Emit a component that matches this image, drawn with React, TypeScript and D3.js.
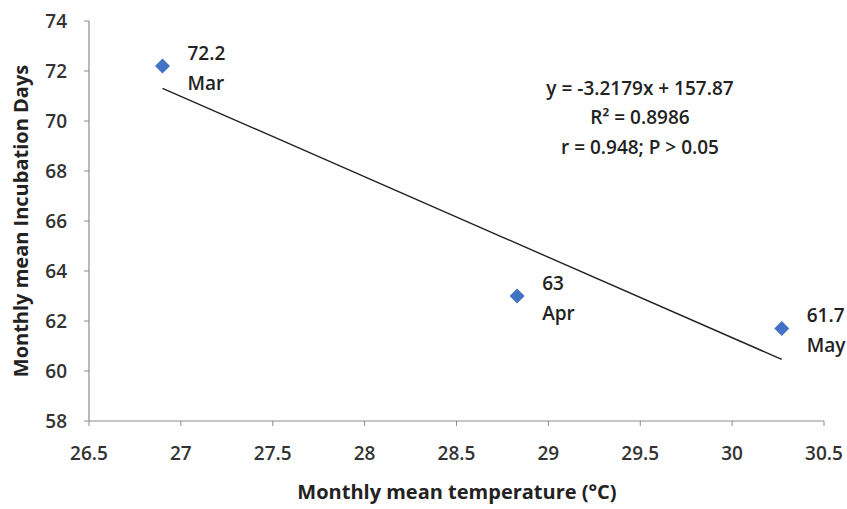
import React from "react";
import * as d3 from "d3";

const temps = [26.9, 28.83, 30.27];
const days = [72.2, 63, 61.7];
const months = ["Mar", "Apr", "May"];
const valueLabels = ["72.2", "63", "61.7"];
const xTicks = [26.5, 27, 27.5, 28, 28.5, 29, 29.5, 30, 30.5];
const yTicks = [58, 60, 62, 64, 66, 68, 70, 72, 74];
const slope = -3.2179;
const intercept = 157.87;
const eqLines = ["y = -3.2179x + 157.87", "R² = 0.8986", "r = 0.948; P > 0.05"];

export default function App() {
  const W = 847, H = 509;
  const x = d3.scaleLinear().domain([26.5, 30.5]).range([89, 824]);
  const y = d3.scaleLinear().domain([58, 74]).range([421, 21]);
  const font = "'Open Sans', 'DejaVu Sans', sans-serif";
  const axisColor = "#8c8c8c";
  const x0 = d3.min(temps)!, x1 = d3.max(temps)!;
  const line = d3.line<number>().x(d => x(d)).y(d => y(slope * d + intercept));
  const r = 7.5;
  const diamond = `M0,${-r}L${r},0L0,${r}L${-r},0Z`;
  return (
    <div style={{ position: "absolute", left: 0, top: 0 }}>
      <svg width={W} height={H} style={{ display: "block", background: "#fff" }} fontFamily={font}>
        {/* axes */}
        <line x1={x(26.5)} x2={x(26.5)} y1={y(74)} y2={y(58)} stroke={axisColor} strokeWidth={1.2} />
        <line x1={x(26.5)} x2={x(30.5)} y1={y(58)} y2={y(58)} stroke={axisColor} strokeWidth={1.2} />
        {yTicks.map(t => (
          <g key={"y" + t}>
            <line x1={x(26.5) - 5} x2={x(26.5)} y1={y(t)} y2={y(t)} stroke={axisColor} strokeWidth={1} />
            <text x={x(26.5) - 22} y={y(t)} dy="0.35em" textAnchor="end" fontSize={19} fontWeight={600} fill="#333">{t}</text>
          </g>
        ))}
        {xTicks.map(t => (
          <g key={"x" + t}>
            <line x1={x(t)} x2={x(t)} y1={y(58)} y2={y(58) + 5} stroke={axisColor} strokeWidth={1} />
            <text x={x(t)} y={453} dy="0.35em" textAnchor="middle" fontSize={19} fontWeight={600} fill="#333">{t}</text>
          </g>
        ))}
        {/* trend line */}
        <path d={line([x0, x1])!} stroke="#222" strokeWidth={1.4} fill="none" />
        {/* points */}
        {temps.map((t, i) => (
          <path key={"p" + i} d={diamond} transform={`translate(${x(t)},${y(days[i])})`} fill="#4472C4" />
        ))}
        {temps.map((t, i) => (
          <g key={"l" + i} fontSize={19} fontWeight={600} fill="#222">
            <text x={x(t) + 25} y={y(days[i]) - 13} dy="0.35em">{valueLabels[i]}</text>
            <text x={x(t) + 25} y={y(days[i]) + 17} dy="0.35em">{months[i]}</text>
          </g>
        ))}
        {/* equation */}
        {eqLines.map((s, i) => (
          <text key={"e" + i} x={640} y={88 + i * 29.5} dy="0.35em" textAnchor="middle" fontSize={19} fontWeight={600} fill="#222">{s}</text>
        ))}
        {/* axis titles */}
        <text transform={`translate(21,${(y(58) + y(74)) / 2}) rotate(-90)`} dy="0.35em" textAnchor="middle" fontSize={20} fontWeight="bold" fill="#222">Monthly mean Incubation Days</text>
        <text x={457} y={492} dy="0.35em" textAnchor="middle" fontSize={20} fontWeight="bold" fill="#222">Monthly mean temperature (°C)</text>
      </svg>
    </div>
  );
}
